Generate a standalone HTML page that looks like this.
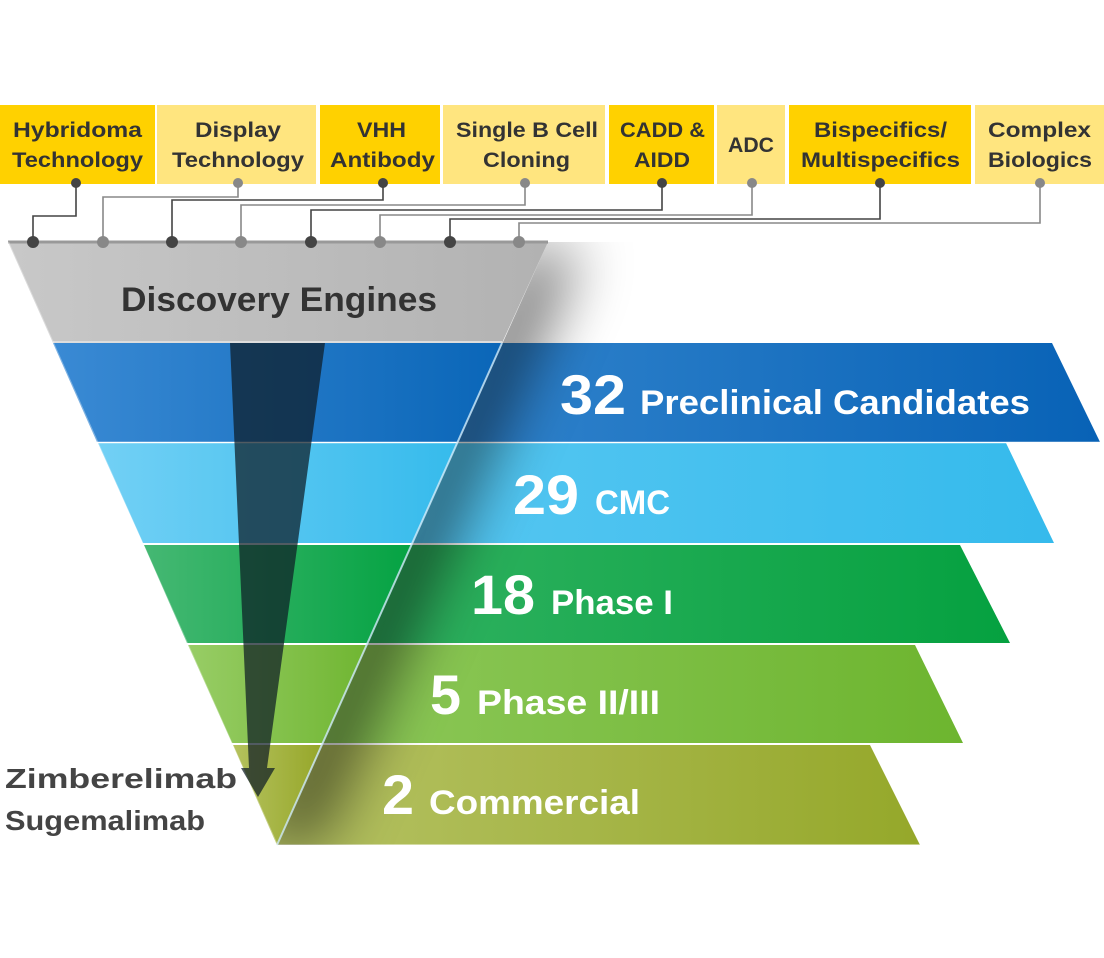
<!DOCTYPE html>
<html><head><meta charset="utf-8"><style>
html,body{margin:0;padding:0;background:#fff;}
svg{display:block;}
text{font-family:"Liberation Sans",sans-serif;}
</style></head><body>
<svg width="1104" height="958" viewBox="0 0 1104 958" xmlns="http://www.w3.org/2000/svg">
<defs>
<linearGradient id="g1" x1="0" x2="1"><stop offset="0" stop-color="#4a98da"/><stop offset="1" stop-color="#0862b6"/></linearGradient>
<linearGradient id="g1i" x1="0" x2="1"><stop offset="0" stop-color="#3a8ad4"/><stop offset="1" stop-color="#0a66b8"/></linearGradient>
<linearGradient id="g2" x1="0" x2="1"><stop offset="0" stop-color="#66cdf4"/><stop offset="1" stop-color="#35baec"/></linearGradient>
<linearGradient id="g2i" x1="0" x2="1"><stop offset="0" stop-color="#72d0f5"/><stop offset="1" stop-color="#36bbec"/></linearGradient>
<linearGradient id="g3" x1="0" x2="1"><stop offset="0" stop-color="#40b86c"/><stop offset="1" stop-color="#05a140"/></linearGradient>
<linearGradient id="g3i" x1="0" x2="1"><stop offset="0" stop-color="#45b873"/><stop offset="1" stop-color="#05a343"/></linearGradient>
<linearGradient id="g4" x1="0" x2="1"><stop offset="0" stop-color="#94cc62"/><stop offset="1" stop-color="#6db52f"/></linearGradient>
<linearGradient id="g4i" x1="0" x2="1"><stop offset="0" stop-color="#98cd66"/><stop offset="1" stop-color="#70b632"/></linearGradient>
<linearGradient id="g5" x1="0" x2="1"><stop offset="0" stop-color="#b8c468"/><stop offset="1" stop-color="#95a82a"/></linearGradient>
<linearGradient id="g5i" x1="0" x2="1"><stop offset="0" stop-color="#b5c25e"/><stop offset="1" stop-color="#96a72a"/></linearGradient>
<linearGradient id="gg" x1="0" x2="1"><stop offset="0" stop-color="#c8c8c8"/><stop offset="1" stop-color="#b2b2b2"/></linearGradient>
<filter id="bl" x="-50%" y="-50%" width="200%" height="200%"><feGaussianBlur stdDeviation="30"/></filter>
<clipPath id="cp"><polygon points="548,242 1104,242 1104,845 277,845"/></clipPath>
</defs>

<!-- boxes -->
<g>
<rect x="0" y="105" width="155" height="79" fill="#ffd100"/>
<rect x="157" y="105" width="159" height="79" fill="#ffe57f"/>
<rect x="320" y="105" width="120" height="79" fill="#ffd100"/>
<rect x="443" y="105" width="162" height="79" fill="#ffe57f"/>
<rect x="609" y="105" width="105" height="79" fill="#ffd100"/>
<rect x="717" y="105" width="68" height="79" fill="#ffe57f"/>
<rect x="789" y="105" width="182" height="79" fill="#ffd100"/>
<rect x="975" y="105" width="129" height="79" fill="#ffe57f"/>
</g>
<g font-size="21" font-weight="bold" fill="#333" lengthAdjust="spacingAndGlyphs">
<text x="13" y="137" textLength="129" lengthAdjust="spacingAndGlyphs">Hybridoma</text><text x="12" y="167" textLength="131" lengthAdjust="spacingAndGlyphs">Technology</text>
<text x="195" y="137" textLength="86" lengthAdjust="spacingAndGlyphs">Display</text><text x="172" y="167" textLength="132" lengthAdjust="spacingAndGlyphs">Technology</text>
<text x="357" y="137" textLength="49" lengthAdjust="spacingAndGlyphs">VHH</text><text x="330" y="167" textLength="105" lengthAdjust="spacingAndGlyphs">Antibody</text>
<text x="456" y="137" textLength="142" lengthAdjust="spacingAndGlyphs">Single B Cell</text><text x="483" y="167" textLength="87" lengthAdjust="spacingAndGlyphs">Cloning</text>
<text x="620" y="137" textLength="85" lengthAdjust="spacingAndGlyphs">CADD &amp;</text><text x="634" y="167" textLength="56" lengthAdjust="spacingAndGlyphs">AIDD</text>
<text x="728" y="152" textLength="46" lengthAdjust="spacingAndGlyphs">ADC</text>
<text x="814" y="137" textLength="133" lengthAdjust="spacingAndGlyphs">Bispecifics/</text><text x="801" y="167" textLength="159" lengthAdjust="spacingAndGlyphs">Multispecifics</text>
<text x="988" y="137" textLength="103" lengthAdjust="spacingAndGlyphs">Complex</text><text x="988" y="167" textLength="104" lengthAdjust="spacingAndGlyphs">Biologics</text>
</g>

<!-- connectors -->
<g fill="none" stroke-width="1.6">
<polyline points="76,183 76,216 33,216 33,242" stroke="#444"/>
<polyline points="238,183 238,197 103,197 103,242" stroke="#888"/>
<polyline points="383,183 383,200 172,200 172,242" stroke="#444"/>
<polyline points="525,183 525,205 241,205 241,242" stroke="#888"/>
<polyline points="662,183 662,210 311,210 311,242" stroke="#444"/>
<polyline points="752,183 752,215 380,215 380,242" stroke="#888"/>
<polyline points="880,183 880,219 450,219 450,242" stroke="#444"/>
<polyline points="1040,183 1040,223 519,223 519,242" stroke="#888"/>
</g>

<!-- gray funnel top -->
<polygon points="8,242 548,242 502,343 53,343" fill="url(#gg)"/>
<line x1="8" y1="242" x2="548" y2="242" stroke="#999" stroke-width="3"/>
<line x1="53" y1="342" x2="502" y2="342" stroke="#ddd" stroke-width="2"/>
<text x="121" y="311" font-size="34" font-weight="bold" fill="#333" textLength="316" lengthAdjust="spacingAndGlyphs">Discovery Engines</text>

<g fill="#444"><circle cx="76" cy="183" r="5"/><circle cx="383" cy="183" r="5"/><circle cx="662" cy="183" r="5"/><circle cx="880" cy="183" r="5"/>
<circle cx="33" cy="242" r="6"/><circle cx="172" cy="242" r="6"/><circle cx="311" cy="242" r="6"/><circle cx="450" cy="242" r="6"/></g>
<g fill="#888"><circle cx="238" cy="183" r="5"/><circle cx="525" cy="183" r="5"/><circle cx="752" cy="183" r="5"/><circle cx="1040" cy="183" r="5"/>
<circle cx="103" cy="242" r="6"/><circle cx="241" cy="242" r="6"/><circle cx="380" cy="242" r="6"/><circle cx="519" cy="242" r="6"/></g>

<!-- bands (outer) -->
<polygon points="53,343 1052,343 1100,442 97,442" fill="url(#g1)"/>
<polygon points="98,443 1006,443 1054,543 143,543" fill="url(#g2)"/>
<polygon points="144,545 960,545 1010,643 187,643" fill="url(#g3)"/>
<polygon points="188,645 915,645 963,743 232,743" fill="url(#g4)"/>
<polygon points="233,745 870,745 920,845 277,845" fill="url(#g5)"/>

<!-- inner bands -->
<polygon points="53,343 502,343 457,442 97,442" fill="url(#g1i)"/>
<polygon points="98,443 457,443 411,543 143,543" fill="url(#g2i)"/>
<polygon points="144,545 411,545 367,643 187,643" fill="url(#g3i)"/>
<polygon points="188,645 366,645 322,743 232,743" fill="url(#g4i)"/>
<polygon points="233,745 321,745 277,845" fill="url(#g5i)"/>

<!-- band separator light lines -->
<g stroke="#ffffff" stroke-opacity="0.45" stroke-width="2">
<line x1="97" y1="442.5" x2="1100" y2="442.5"/>
<line x1="143" y1="544" x2="1054" y2="544"/>
<line x1="187" y1="644" x2="1010" y2="644"/>
<line x1="232" y1="744" x2="963" y2="744"/>
<line x1="277" y1="845" x2="920" y2="845"/>
</g>

<!-- shadow -->
<g clip-path="url(#cp)">
<polygon points="520,250 580,250 320,845 250,845" fill="#000" opacity="0.55" filter="url(#bl)"/>
</g>

<!-- funnel right edge line & left edge -->
<line x1="502" y1="343" x2="277" y2="845" stroke="#cde9f7" stroke-opacity="0.8" stroke-width="2"/>
<line x1="8" y1="242" x2="277" y2="845" stroke="#fff" stroke-opacity="0.35" stroke-width="2"/>

<!-- arrow -->
<polygon points="230,343 325,343 267,768 275,768 258,797 241,768 249,768" fill="#0e1c26" fill-opacity="0.72"/>

<!-- band text -->
<g fill="#fff" font-weight="bold">
<text x="560" y="414" font-size="56" textLength="66" lengthAdjust="spacingAndGlyphs">32</text>
<text x="640" y="414" font-size="34" textLength="390" lengthAdjust="spacingAndGlyphs">Preclinical Candidates</text>
<text x="513" y="514" font-size="56" textLength="66" lengthAdjust="spacingAndGlyphs">29</text>
<text x="595" y="514" font-size="34" textLength="75" lengthAdjust="spacingAndGlyphs">CMC</text>
<text x="471" y="614" font-size="56" textLength="64" lengthAdjust="spacingAndGlyphs">18</text>
<text x="551" y="614" font-size="34" textLength="122" lengthAdjust="spacingAndGlyphs">Phase I</text>
<text x="430" y="714" font-size="56" textLength="31" lengthAdjust="spacingAndGlyphs">5</text>
<text x="477" y="714" font-size="34" textLength="183" lengthAdjust="spacingAndGlyphs">Phase II/III</text>
<text x="382" y="814" font-size="56" textLength="32" lengthAdjust="spacingAndGlyphs">2</text>
<text x="429" y="814" font-size="34" textLength="211" lengthAdjust="spacingAndGlyphs">Commercial</text>
</g>

<g fill="#444" font-size="28" font-weight="bold">
<text x="5" y="788" textLength="232" lengthAdjust="spacingAndGlyphs">Zimberelimab</text>
<text x="5" y="830" textLength="200" lengthAdjust="spacingAndGlyphs">Sugemalimab</text>
</g>
</svg>
</body></html>
